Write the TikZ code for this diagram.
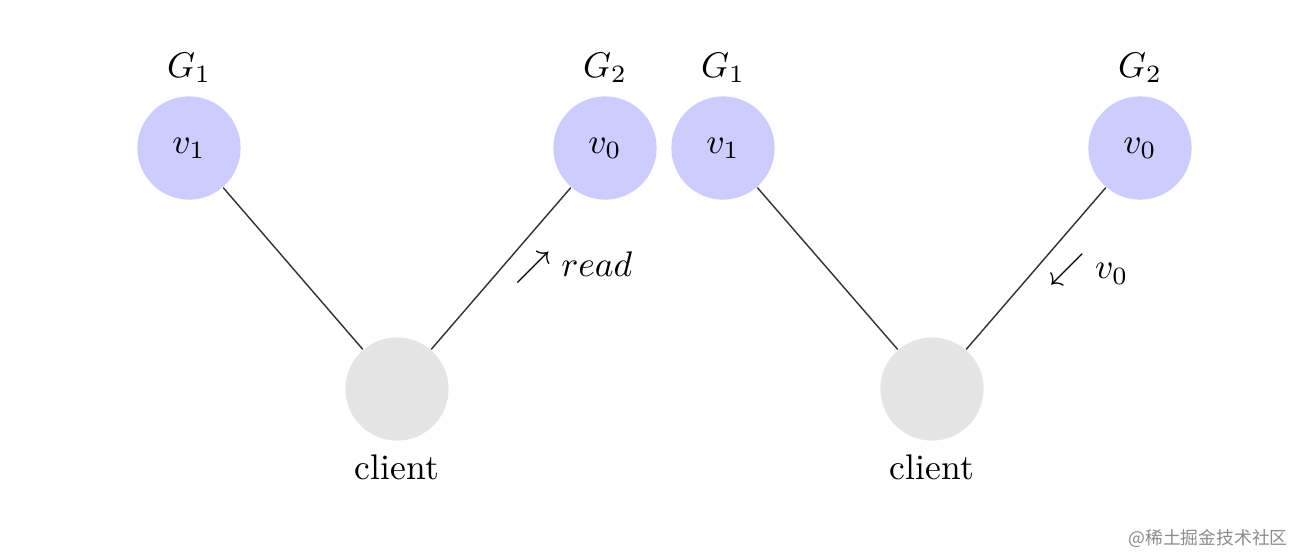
\documentclass[tikz,border=0pt]{standalone}
\usepackage{fontspec}
\newfontfamily\cjk{Noto Sans CJK SC}
\begin{document}
\begin{tikzpicture}[x=0.2809pt,y=-0.2809pt,
  server/.style={circle,fill=blue!20,minimum size=29pt,inner sep=0pt},
  clientnode/.style={circle,fill=black!10,minimum size=29pt,inner sep=0pt},
  link/.style={draw=black!80,line width=0.4pt},
  lbl/.style={inner sep=0pt}]
\useasboundingbox (0,0) rectangle (1295,555);
% left panel
\node[server] (lv1) at (189,148) {$v_1$};
\node[server] (lv0) at (605,148) {$v_0$};
\node[clientnode] (lc) at (397,389) {};
\node[lbl] (lg1) at (189,68) {$G_1$};
\node[lbl] (lg2) at (605,68) {$G_2$};
\node[lbl] (lcl) at (397,467) {client};
\draw[link] (lv1) -- (lc);
\draw[link] (lc) -- (lv0);
\node[lbl] (lread) at (574,268) {$\nearrow read$};
% right panel
\node[server] (rv1) at (723,148) {$v_1$};
\node[server] (rv0) at (1140,148) {$v_0$};
\node[clientnode] (rc) at (932,389) {};
\node[lbl] (rg1) at (723,68) {$G_1$};
\node[lbl] (rg2) at (1140,68) {$G_2$};
\node[lbl] (rcl) at (932,467) {client};
\draw[link] (rv1) -- (rc);
\draw[link] (rc) -- (rv0);
\node[lbl] (rval) at (1089,270) {$\swarrow v_0$};
% watermark
\node[lbl,text=black!45,font=\cjk\fontsize{5pt}{6pt}\selectfont] (wm) at (1208,538) {@稀土掘金技术社区};
\end{tikzpicture}
\end{document}
